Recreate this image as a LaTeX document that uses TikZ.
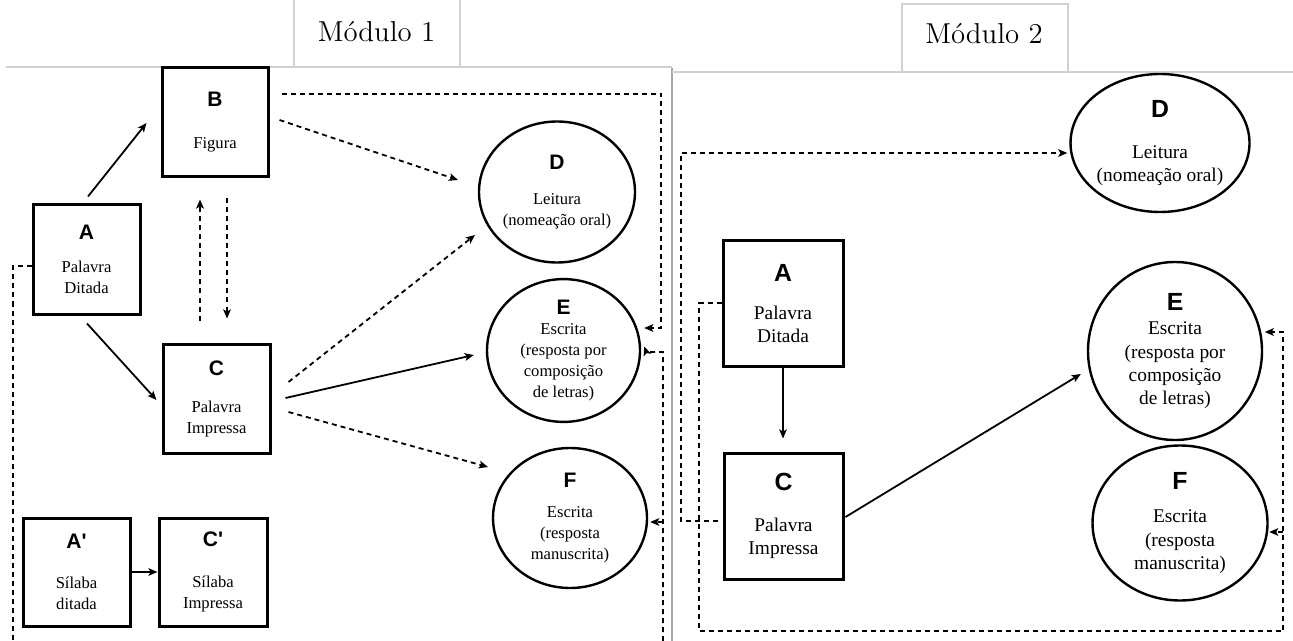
\documentclass[tikz,border=0pt]{standalone}
\usepackage{fontspec}
\newfontfamily\tnrfont{Liberation Serif}
\newfontfamily\arlfont{Liberation Sans}
\usetikzlibrary{shapes.geometric,arrows.meta,calc}
\newcommand\mytxtA{\tnrfont\fontsize{8.3}{10.5}\selectfont}
\newcommand\mylblA{\arlfont\bfseries\fontsize{10.5}{10.5}\selectfont}
\newcommand\mytxtB{\tnrfont\fontsize{9.7}{11.6}\selectfont}
\newcommand\mylblB{\arlfont\bfseries\fontsize{12.4}{11.6}\selectfont}
\begin{document}
\begin{tikzpicture}[x=0.5pt,y=-0.5pt,
  boxA/.style={draw, rectangle, line width=1.5pt, inner sep=0pt, align=center, font=\mytxtA},
  boxB/.style={draw, rectangle, line width=1.5pt, inner sep=0pt, align=center, font=\mytxtB},
  ellA/.style={draw, ellipse, line width=1.2pt, inner sep=0pt, align=center, font=\mytxtA},
  ellB/.style={draw, ellipse, line width=1.2pt, inner sep=0pt, align=center, font=\mytxtB},
  arr/.style={-{Stealth[length=4.5pt,width=3.8pt,inset=1pt]}, line width=0.9pt},
  darr/.style={arr, dash pattern=on 2.5pt off 2pt},
  dl/.style={line width=0.9pt, dash pattern=on 2.5pt off 2pt},
  tab/.style={draw=black!18, line width=0.6pt},
  sep/.style={draw=black!35, line width=1pt},
  modlbl/.style={font=\fontsize{14.4}{16}\selectfont, anchor=base, inner sep=0pt}]
\fill[white] (0,0) rectangle (1293,641);
\useasboundingbox (0,0) rectangle (1293,641);

% frames
\draw[tab] (294,0) -- (294,67);
\draw[tab] (460,0) -- (460,67);
\draw[tab] (6,67) -- (672,67);
\draw[sep] (672,68) -- (672,641);
\draw[tab] (902,72) -- (902,4) -- (1068,4) -- (1068,72);
\draw[tab] (672,72) -- (1293,72);
\node[modlbl] (mod1) at (376.5,42) {Módulo 1};
\node[modlbl] (mod2) at (984,44) {Módulo 2};

% Module 1 nodes
\node[boxA, minimum width=53.5pt, minimum height=54.5pt] (A) at (86.5,259.5) {{\mylblA A}\\[6.3pt]Palavra\\Ditada};
\node[boxA, minimum width=53pt, minimum height=54.5pt] (B) at (215,122.5) {{\mylblA B}\\[10.5pt]Figura};
\node[boxA, minimum width=53.5pt, minimum height=54.5pt] (C) at (216.5,398.5) {{\mylblA C}\\[8pt]Palavra\\Impressa};
\node[boxA, minimum width=53.5pt, minimum height=54pt] (Ap) at (76.5,572) {{\mylblA A'}\\[9.7pt]Sílaba\\ditada};
\node[boxA, minimum width=54pt, minimum height=54pt] (Cp) at (213,572) {{\mylblA C'}\\[9.7pt]Sílaba\\Impressa};
\node[ellA, minimum width=78pt, minimum height=70.5pt] (D) at (557,192) {{\mylblA D}\\[7.2pt]Leitura\\(nomeação oral)};
\node[ellA, minimum width=76.5pt, minimum height=70.5pt] (E) at (563.5,350.5) {{\mylblA E}\\[-0.5pt]Escrita\\(resposta por\\composição\\de letras)};
\node[ellA, minimum width=77pt, minimum height=70pt] (F) at (570,518) {{\mylblA F}\\[4.7pt]Escrita\\(resposta\\manuscrita)};

% Module 1 connectors
\draw[arr] ($(A.north)+(1.5,-7)$) -- ($(B.west)+(-14,0.5)$);
\draw[arr] ($(A.south)+(0.5,8)$) -- ($(C.west)+(-5,1.5)$);
\draw[darr] ($(B.south)+(12,20)$) -- ($(C.north)+(10.5,-24)$);
\draw[darr] ($(C.north)+(-16.5,-22)$) -- ($(B.south)+(-15,21)$);
\draw[darr] ($(B.east)+(10,-2.5)$) -- ($(D.center)+(-99,-12)$);
\draw[darr] ($(B.east)+(12,-28.5)$) -| ($(E.east)+(20,-22.5)$) -- ($(E.east)+(3,-22.5)$);
\draw[darr] ($(C.east)+(17,-16.5)$) -- ($(D.center)+(-82,43)$);
\draw[arr] ($(C.east)+(14,-0.5)$) -- ($(E.west)+(-12,4.5)$);
\draw[darr] ($(C.east)+(17,13.5)$) -- ($(F.center)+(-82,-51)$);
\draw[arr] (Ap.east) -- (Cp.west);
\coordinate (m1bl) at (13,641);
\draw[dl] ($(A.west)+(0,6.5)$) -| (m1bl);
\coordinate (m1br) at (663,641);
\coordinate (m1f) at (663,522);
\draw[darr] (m1br) |- ($(E.east)+(5,1.5)$) -- ($(E.east)+(3,-4)$);
\draw[darr] (m1f) -- ($(F.east)+(2,4)$);

% Module 2 nodes
\node[boxB, minimum width=60pt, minimum height=62.5pt] (A2) at (783,303.5) {{\mylblB A}\\[7.4pt]Palavra\\Ditada};
\node[boxB, minimum width=59.5pt, minimum height=63pt] (C2) at (783.5,516) {{\mylblB C}\\[9.1pt]Palavra\\Impressa};
\node[ellB, minimum width=85pt, minimum height=69pt] (D2) at (1160,143) {{\mylblB D}\\[9.1pt]Leitura\\(nomeação oral)};
\node[ellB, minimum width=87pt, minimum height=89pt] (E2) at (1175,351) {{\mylblB E}\\[0.6pt]Escrita\\(resposta por\\composição\\de letras)};
\node[ellB, minimum width=87.5pt, minimum height=77.5pt] (F2) at (1180,523) {{\mylblB F}\\[5.1pt]Escrita\\(resposta\\manuscrita)};

% Module 2 connectors
\draw[arr] (A2.south) -- ($(C2.north)+(-0.5,-13)$);
\draw[arr] ($(C2.east)+(1,1)$) -- ($(E2.west)+(-6,23)$);
\coordinate (m2tl) at (681,153);
\draw[darr] ($(C2.west)+(-5,5)$) -| (m2tl) -- ($(D2.west)+(-2,10)$);
\coordinate (m2bl) at (699,631);
\coordinate (m2br) at (1283,631);
\coordinate (m2f) at (1283,532);
\draw[darr] ($(A2.west)+(0,-0.5)$) -| (m2bl) -- (m2br) |- ($(E2.east)+(1.5,-19)$);
\draw[darr] (m2f) -- ($(F2.east)+(0.5,9)$);
\end{tikzpicture}
\end{document}
